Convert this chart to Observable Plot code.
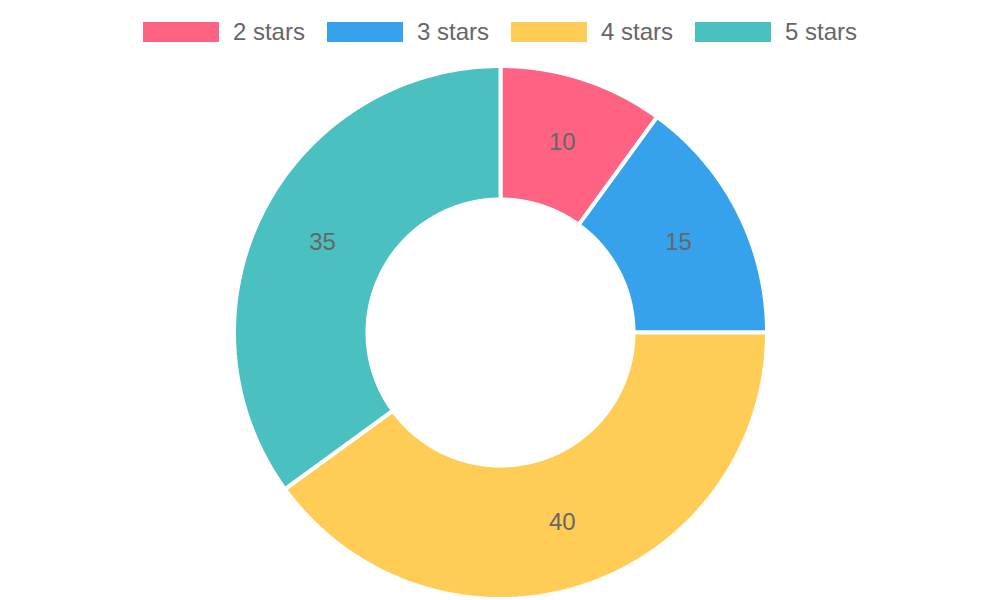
<!DOCTYPE html>
<html>
<head>
<meta charset="utf-8">
<script src="https://cdn.jsdelivr.net/npm/d3@7"></script>
<script src="https://cdn.jsdelivr.net/npm/@observablehq/plot@0.6"></script>
<style>
  html, body { margin: 0; padding: 0; background: #fff; }
  body { width: 1000px; height: 600px; overflow: hidden; font-family: "Liberation Sans", Arial, Helvetica, sans-serif; }
  #legend { height: 64px; display: flex; justify-content: center; align-items: center; gap: 22px; box-sizing: border-box; }
  .item { display: flex; align-items: center; color: #666; font-size: 24px; }
  .swatch { width: 76px; height: 20px; margin-right: 14px; }
</style>
</head>
<body>
<div id="legend"></div>
<div id="chart"></div>
<script>
const labels = ["2 stars", "3 stars", "4 stars", "5 stars"];
const values = [10, 15, 40, 35];
const colors = ["rgb(255, 99, 132)", "rgb(54, 162, 235)", "rgb(255, 205, 86)", "rgb(75, 192, 192)"];

const W = 1000, H = 536;
const outerR = 266.5, innerR = 133;

// legend
const legend = document.getElementById("legend");
labels.forEach((l, i) => {
  const it = document.createElement("div");
  it.className = "item";
  const sw = document.createElement("span");
  sw.className = "swatch";
  sw.style.background = colors[i];
  const tx = document.createElement("span");
  tx.textContent = l;
  it.appendChild(sw); it.appendChild(tx);
  legend.appendChild(it);
});

// pie geometry in data units (pixels, y up)
const arcs = d3.pie().sort(null).value(d => d.value)(labels.map((label, i) => ({label, value: values[i]})));
const N = 120;
const points = [];
arcs.forEach(a => {
  for (let k = 0; k <= N; k++) {
    const t = a.startAngle + (a.endAngle - a.startAngle) * k / N;
    points.push({label: a.data.label, x: outerR * Math.sin(t), y: outerR * Math.cos(t)});
  }
  for (let k = N; k >= 0; k--) {
    const t = a.startAngle + (a.endAngle - a.startAngle) * k / N;
    points.push({label: a.data.label, x: innerR * Math.sin(t), y: innerR * Math.cos(t)});
  }
});
const midR = (outerR + innerR) / 2;
const centroids = arcs.map(a => {
  const m = (a.startAngle + a.endAngle) / 2;
  return {label: a.data.label, value: a.data.value, x: midR * Math.sin(m), y: midR * Math.cos(m)};
});

const chart = Plot.plot({
  width: W,
  height: H,
  margin: 0,
  style: {background: "#fff", fontFamily: "'Liberation Sans', Arial, Helvetica, sans-serif", overflow: "visible"},
  x: {domain: [-W / 2, W / 2], range: [0, W], axis: null},
  y: {domain: [H / 2, -H / 2], range: [0, H], axis: null},
  color: {domain: labels, range: colors},
  marks: [
    Plot.line(points, {x: "x", y: "y", z: "label", fill: "label", stroke: "white", strokeWidth: 4, strokeLinejoin: "miter", curve: "linear-closed"}),
    Plot.text(centroids, {x: "x", y: "y", text: d => String(d.value), fill: "#666", fontSize: 24})
  ]
});
document.getElementById("chart").appendChild(chart);
</script>
</body>
</html>
